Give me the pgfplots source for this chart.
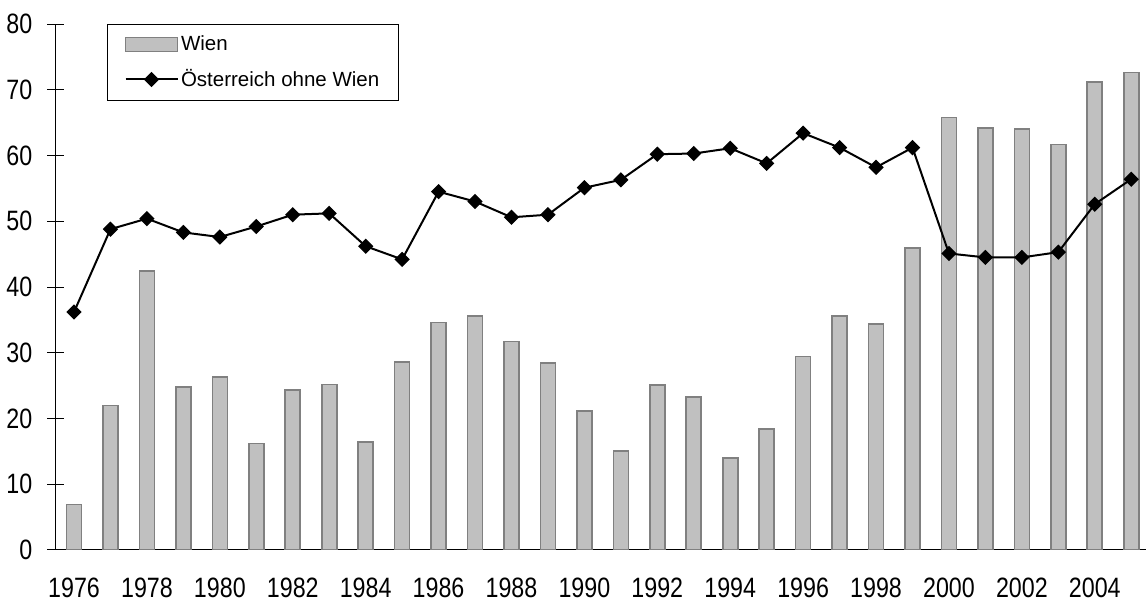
\documentclass[border=0pt]{standalone}
\usepackage{fontspec}
\setmainfont{Liberation Sans}
\newfontfamily\narrowfont{Liberation Sans}[FakeStretch=0.83]
\usepackage{pgfplots}
\usepackage{pgfplotstable}
\pgfplotsset{compat=1.18}

\definecolor{barfill}{HTML}{C0C0C0}
\definecolor{baredge}{HTML}{808080}

% legend swatches
\pgfplotsset{
  bar legend/.style={legend image code/.code={%
    \draw[##1, line width=0.5pt] (0pt,-3.5pt) rectangle (26pt,3.5pt);}},
  line legend wide/.style={legend image code/.code={%
    \draw[mark repeat=2, mark phase=2, ##1] plot coordinates {(0pt,0pt) (13pt,0pt) (26pt,0pt)};}},
}

% year, Wien, Oesterreich ohne Wien
\pgfplotstableread{
year  wien  rest
1976   6.9  36.2
1977  22.0  48.8
1978  42.4  50.4
1979  24.8  48.3
1980  26.3  47.6
1981  16.2  49.2
1982  24.3  51.0
1983  25.2  51.2
1984  16.4  46.2
1985  28.6  44.2
1986  34.6  54.5
1987  35.6  53.0
1988  31.7  50.6
1989  28.4  51.0
1990  21.1  55.1
1991  15.1  56.3
1992  25.1  60.2
1993  23.3  60.3
1994  14.0  61.1
1995  18.4  58.8
1996  29.4  63.4
1997  35.6  61.2
1998  34.4  58.2
1999  45.9  61.2
2000  65.8  45.1
2001  64.2  44.5
2002  64.0  44.5
2003  61.7  45.3
2004  71.2  52.6
2005  72.6  56.4
}\datatable

\begin{document}
\begin{tikzpicture}
\begin{axis}[
  scale only axis,
  width=545pt, height=263pt,
  xmin=1975.5, xmax=2005.4,
  ymin=0, ymax=80,
  axis lines=left,
  axis line style={-, black, line width=0.5pt},
  tick align=center,
  major tick length=8.5pt,
  minor tick length=9pt,
  tick style={black, line width=0.5pt},
  ytick={0,10,...,80},
  yticklabels={0,10,20,30,40,50,60,70,80},
  xtick={1976,1978,...,2004},
  xticklabels={1976,1978,1980,1982,1984,1986,1988,1990,1992,1994,1996,1998,2000,2002,2004},
  xtick style={draw=none},
  minor xtick={1975.5,1976.5,...,2004.5},
  tick label style={font=\narrowfont\fontsize{14pt}{16pt}\selectfont},
  xticklabel style={yshift=-6pt},
  yticklabel style={xshift=-4pt},
  legend style={
    at={(rel axis cs:0.047,1)}, anchor=north west,
    draw=black, line width=0.5pt, fill=white,
    inner xsep=8.5pt, inner ysep=1.5pt,
    nodes={inner xsep=1.25pt, inner ysep=4pt},
    font=\fontsize{10.25pt}{12pt}\selectfont,
  },
  legend cell align=left,
]
\addplot[ybar, bar width=7.5pt, fill=barfill, draw=baredge, line width=0.8pt, bar legend]
  table[x=year, y=wien] {\datatable};
\addlegendentry{Wien}
\addplot[black, line width=1pt, mark=square*, mark size=2.4pt,
  mark options={rotate=45, fill=black, solid, line width=0.6pt}, line legend wide]
  table[x=year, y=rest] {\datatable};
\addlegendentry{Österreich ohne Wien}
\end{axis}
\pgfresetboundingbox
\path[use as bounding box]
  ([shift={(-27.9pt,-27pt)}]current axis.south west) rectangle
  ([shift={(545.1pt,275pt)}]current axis.south west);
\end{tikzpicture}
\end{document}
